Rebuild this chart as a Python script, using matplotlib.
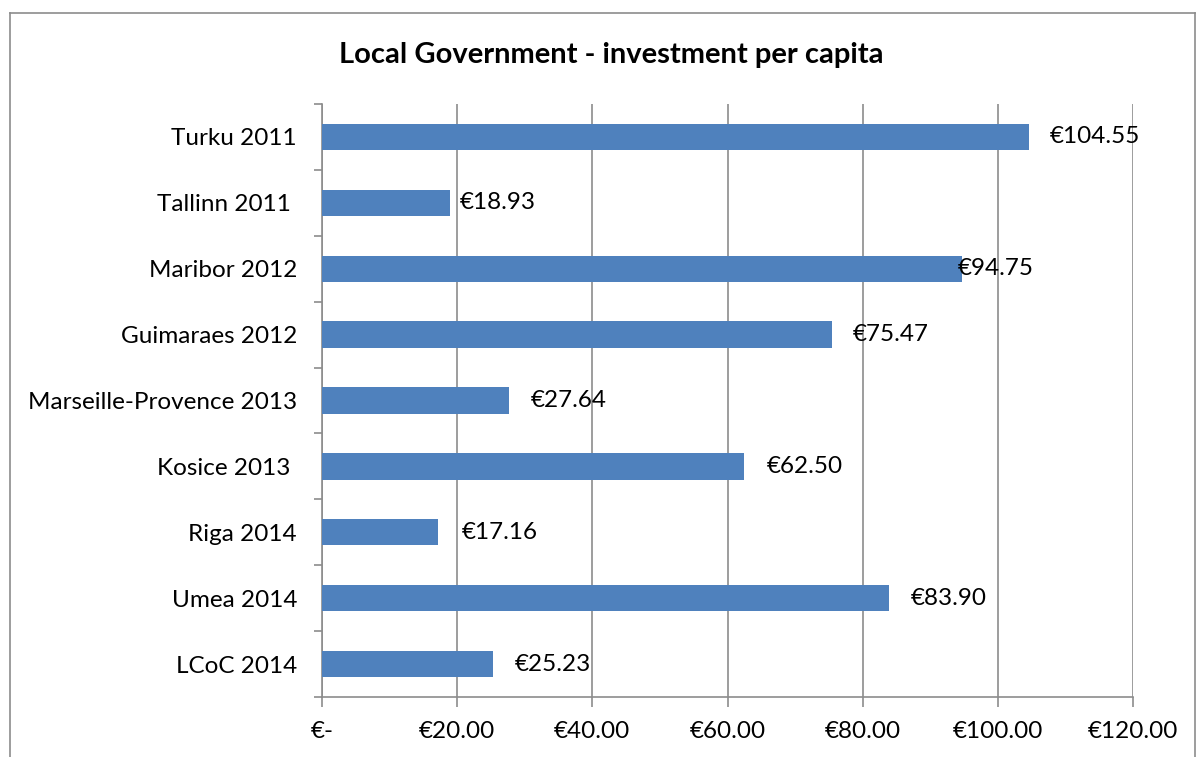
import matplotlib.pyplot as plt
from matplotlib.lines import Line2D
from matplotlib.ticker import MultipleLocator, FuncFormatter

cities = ["Turku 2011", "Tallinn 2011 ", "Maribor 2012", "Guimaraes 2012",
          "Marseille-Provence 2013", "Kosice 2013 ", "Riga 2014", "Umea 2014",
          "LCoC 2014"]
investment = [104.55, 18.93, 94.75, 75.47, 27.64, 62.50, 17.16, 83.90, 25.23]

# horizontal nudge of each value label from its bar end, in points
label_nudge = [15, 7, -3, 15, 16, 16, 17, 16, 16]

plt.rcParams['font.family'] = ['Lato', 'DejaVu Sans']
FS = 17.5

fig = plt.figure(figsize=(12.03, 7.57), dpi=100)
ax = fig.add_axes([0.2677, 0.0793, 0.6741, 0.7833])

ypos = list(range(len(cities)))[::-1]
ax.barh(ypos, investment, height=0.4, color="#4F81BD", zorder=3)

for y, v, dx in zip(ypos, investment, label_nudge):
    ax.annotate(f"€{v:.2f}", (v, y), xytext=(dx, 0), textcoords="offset points",
                va="center", ha="left", fontsize=FS, zorder=4)

ax.set_xlim(0, 120)
ax.set_ylim(-0.5, len(cities) - 0.5)
ax.xaxis.set_major_locator(MultipleLocator(20))
ax.xaxis.set_major_formatter(FuncFormatter(lambda x, p: "€-" if x == 0 else f"€{x:.2f}"))
ax.grid(axis="x", color="#8C8C8C", linewidth=1.2, zorder=0)

ax.set_yticks(ypos)
ax.set_yticklabels(cities)
ax.set_yticks([i - 0.5 for i in range(len(cities) + 1)], minor=True)
ax.tick_params(axis="y", which="major", length=0, pad=18, labelsize=FS)
ax.tick_params(axis="y", which="minor", length=6, width=1.2, color="#8C8C8C", direction="out")
ax.tick_params(axis="x", length=7, width=1.2, color="#8C8C8C", pad=10, labelsize=FS)

for side in ["top", "right"]:
    ax.spines[side].set_visible(False)
for side in ["left", "bottom"]:
    ax.spines[side].set_color("#8C8C8C")
    ax.spines[side].set_linewidth(1.2)

fig.text(0.508, 0.927, "Local Government - investment per capita",
         ha="center", va="center", fontsize=21, fontweight="bold")

# chart area frame
frame_kw = dict(color="#8C8C8C", linewidth=1.2, transform=fig.transFigure)
fig.add_artist(Line2D([0.0083, 0.0083], [0.0, 0.983], **frame_kw))
fig.add_artist(Line2D([0.0083, 0.9933], [0.983, 0.983], **frame_kw))
fig.add_artist(Line2D([0.9933, 0.9933], [0.0, 0.983], **frame_kw))

fig.savefig("out.png", dpi=100, facecolor="white")
